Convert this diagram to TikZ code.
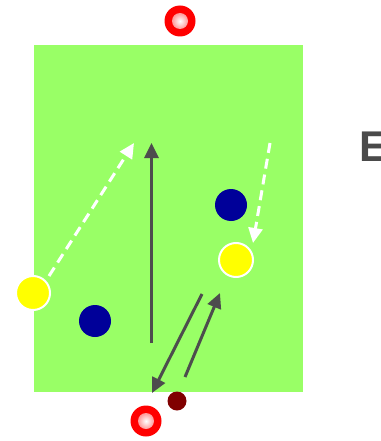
\documentclass[tikz,border=0pt]{standalone}
\usepackage{fontspec}
\setsansfont{Liberation Sans}
\usetikzlibrary{arrows.meta}
\definecolor{pitch}{HTML}{99FF66}
\definecolor{navy}{HTML}{000099}
\definecolor{yel}{HTML}{FFFF00}
\definecolor{run}{HTML}{4D4D4D}
\definecolor{ballc}{HTML}{800000}
\definecolor{title}{HTML}{4A4A4A}
\tikzset{
  >={Triangle[length=15pt,width=14pt]},
  att/.style={circle,fill=yel,draw=white,line width=2pt,minimum size=34pt,inner sep=0pt},
  def/.style={circle,fill=navy,minimum size=32pt,inner sep=0pt},
  ball/.style={circle,fill=ballc,minimum size=19pt,inner sep=0pt},
  cone/.style={circle,fill=red,minimum size=31pt,inner sep=0pt},
  conein/.style={circle,inner color=white,outer color=red!40,minimum size=16pt,inner sep=0pt},
  mv/.style={->,draw=run,line width=3pt},
  pass/.style={->,draw=white,line width=3pt,dash pattern=on 10pt off 6pt},
}
\begin{document}
\begin{tikzpicture}[x=1pt,y=-1pt]
\useasboundingbox (0,0) rectangle (380,441);
\clip (0,0) rectangle (380,441);
\fill[pitch] (34,45) rectangle (303,392);
% cones
\node[cone] (c1) at (180,21) {};
\node[conein] at (c1) {};
\node[cone] (c2) at (146,421) {};
\node[conein] at (c2) {};
% players
\node[att] (a1) at (33,293) {};
\node[att] (a2) at (236,260) {};
\node[def] (d1) at (95,321) {};
\node[def] (d2) at (231,205) {};
\node[ball] (b) at (177,401) {};
% runs
\coordinate (r1) at (151.5,343);
\coordinate (r1e) at (151.5,143);
\coordinate (r2) at (202,294);
\coordinate (r2e) at (152,393);
\coordinate (r3) at (185,377);
\coordinate (r3e) at (220,293);
\draw[mv] (r1) -- (r1e);
\draw[mv] (r2) -- (r2e);
\draw[mv] (r3) -- (r3e);
% passes
\coordinate (p1) at (49,276);
\coordinate (p1e) at (134,143);
\coordinate (p2) at (270,143);
\coordinate (p2e) at (253,243);
\draw[pass] (p1) -- (p1e);
\draw[pass] (p2) -- (p2e);
\node[anchor=base west,inner sep=0pt,font=\sffamily\bfseries\fontsize{43}{43}\selectfont,text=title] (t) at (359,161) {E};
\end{tikzpicture}
\end{document}
